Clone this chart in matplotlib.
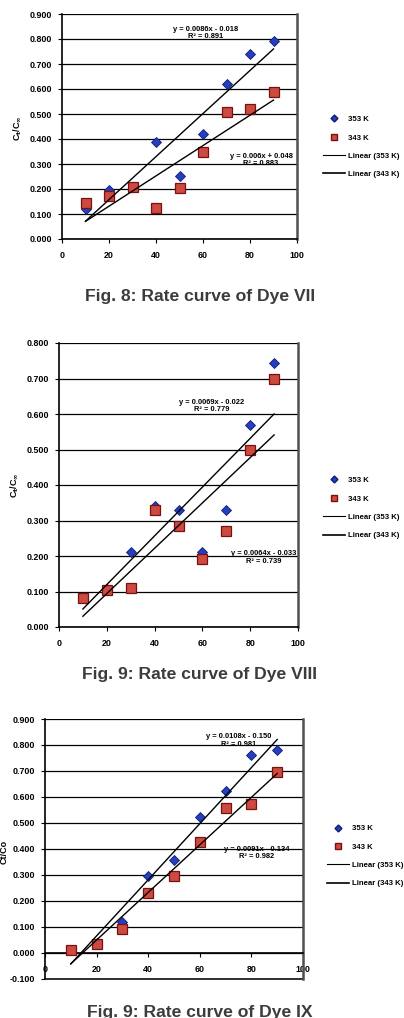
"""
Courbes de vitesse des colorants VII, VIII et IX (353 K et 343 K)
"""
import numpy as np
import matplotlib
matplotlib.use('Agg')
import matplotlib.pyplot as plt
from matplotlib.lines import Line2D

plt.rcParams['font.family'] = ['Liberation Sans', 'DejaVu Sans']
plt.rcParams['font.weight'] = 'bold'
plt.rcParams['mathtext.default'] = 'bf'

# données communes
temps = ['353 K', '343 K']
x = [10, 20, 30, 40, 50, 60, 70, 80, 90]
x_ticks = [0, 20, 40, 60, 80, 100]

# Dye VII
dye7_353 = [0.120, 0.197, 0.210, 0.389, 0.253, 0.422, 0.620, 0.739, 0.792]
dye7_343 = [0.144, 0.173, 0.208, 0.124, 0.204, 0.349, 0.510, 0.519, 0.587]
dye7_eq = ['y = 0.0086x - 0.018\nR² = 0.891', 'y = 0.006x + 0.048\nR² = 0.883']

# Dye VIII
dye8_353 = [0.085, 0.108, 0.212, 0.342, 0.329, 0.212, 0.329, 0.568, 0.744]
dye8_343 = [0.082, 0.105, 0.110, 0.329, 0.285, 0.192, 0.271, 0.499, 0.698]
dye8_eq = ['y = 0.0069x - 0.022\nR² = 0.779', 'y = 0.0064x - 0.033\nR² = 0.739']

# Dye IX
dye9_353 = [0.010, 0.040, 0.119, 0.295, 0.357, 0.522, 0.623, 0.761, 0.779]
dye9_343 = [0.010, 0.035, 0.092, 0.231, 0.298, 0.427, 0.556, 0.575, 0.696]
dye9_eq = ['y = 0.0108x - 0.150\nR² = 0.981', 'y = 0.0091x - 0.134\nR² = 0.982']

W, H = 404, 1018
fig = plt.figure(figsize=(W / 100, H / 100), dpi=100)
fig.patch.set_facecolor('white')

BLUE = '#2440c0'
RED = '#cc4a40'


def px_rect(left, top, right, bottom):
    # conversion pixels -> fractions de la figure
    return [left / W, 1 - bottom / H, (right - left) / W, (bottom - top) / H]


def draw_panel(rect, y_hot, y_cold, eqs, eq_pos, ylim, ylabel, ylabel_pos,
               legend_pos, caption, caption_y, zero_axis=False):
    ax = fig.add_axes(px_rect(*rect))
    # points expérimentaux
    ax.plot(x, y_hot, ls='none', marker='D', ms=5, mfc=BLUE, mec='#101c70',
            mew=0.6, zorder=3)
    ax.plot(x, y_cold, ls='none', marker='s', ms=7, mfc=RED, mec='#7a1010',
            mew=0.9, zorder=3.5)
    # droites de tendance (régression linéaire)
    xs = np.array([x[0], x[-1]])
    for ys in [y_hot, y_cold]:
        a, b = np.polyfit(x, ys, 1)
        ax.plot(xs, a * xs + b, color='black', lw=1.0, zorder=4)
    # équations
    for txt, (tx, ty) in zip(eqs, eq_pos):
        ax.text(tx, ty, txt, transform=ax.transAxes, ha='center', va='center',
                fontsize=5.4, linespacing=1.15, zorder=5)

    ax.set_xlim(0, 100)
    ax.set_ylim(*ylim)
    ax.set_xticks(x_ticks)
    ax.set_yticks(np.arange(ylim[0], ylim[1] + 0.001, 0.1))
    ax.yaxis.set_major_formatter(plt.FormatStrFormatter('%.3f'))
    ax.yaxis.grid(True, color='black', lw=0.9)
    ax.set_axisbelow(True)
    ax.tick_params(axis='y', labelsize=6.4, length=3, width=0.8, pad=4)
    ax.tick_params(axis='x', labelsize=6.4, length=3, width=0.8, pad=6)
    ax.spines['top'].set_visible(False)
    ax.spines['left'].set_linewidth(1.2)
    ax.spines['bottom'].set_linewidth(1.2)
    ax.spines['right'].set_linewidth(1.8)
    ax.spines['right'].set_color('#505050')
    if zero_axis:
        ax.spines['bottom'].set_position(('data', 0))
        ax.axhline(ylim[0], color='#303030', lw=1.4, clip_on=False)

    fig.text(ylabel_pos[0] / W, 1 - ylabel_pos[1] / H, ylabel, rotation=90,
             ha='center', va='center', fontsize=6.5)

    handles = [Line2D([], [], ls='none', marker='D', ms=3.5, mfc=BLUE, mec='#101c70'),
               Line2D([], [], ls='none', marker='s', ms=4.5, mfc=RED, mec='#7a1010'),
               Line2D([], [], color='black', lw=0.8),
               Line2D([], [], color='black', lw=1.2)]
    labels = temps + ['Linear (%s)' % t for t in temps]
    ax.legend(handles, labels, loc='center left',
              bbox_to_anchor=(legend_pos[0] / W, 1 - legend_pos[1] / H),
              bbox_transform=fig.transFigure, frameon=False, fontsize=5.6,
              handlelength=2.8, labelspacing=1.4, handletextpad=0.35,
              borderpad=0, borderaxespad=0, numpoints=1)

    fig.text(200 / W, 1 - caption_y / H, caption, ha='center', va='center',
             fontsize=12.6, fontweight='bold', color='#3c3c3c')
    return ax


draw_panel((62, 14, 297, 239), dye7_353, dye7_343, dye7_eq,
           [(0.61, 0.916), (0.847, 0.351)], (0.0, 0.9),
           'C$_t$/C$_\\infty$', (18, 128), (323, 147),
           'Fig. 8: Rate curve of Dye VII', 297)

draw_panel((59, 343, 298, 627), dye8_353, dye8_343, dye8_eq,
           [(0.64, 0.778), (0.858, 0.245)], (0.0, 0.8),
           'C$_t$/C$_\\infty$', (15, 485), (323, 508),
           'Fig. 9: Rate curve of Dye VIII', 675)

draw_panel((45, 719, 303, 979), dye9_353, dye9_343, dye9_eq,
           [(0.752, 0.918), (0.822, 0.485)], (-0.1, 0.9),
           'Ct/Co', (4, 852), (327, 856),
           'Fig. 9: Rate curve of Dye IX', 1012, zero_axis=True)

plt.savefig('out.png', dpi=100)
